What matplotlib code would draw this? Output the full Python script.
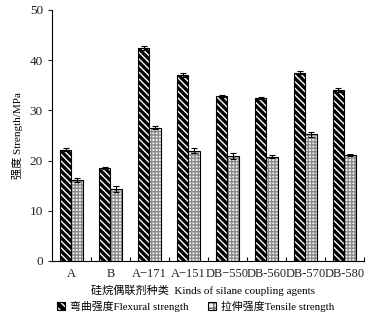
import matplotlib.pyplot as plt
from matplotlib.legend_handler import HandlerTuple
import numpy as np

plt.rcParams['font.family'] = ['Liberation Serif', 'Noto Sans CJK SC']
plt.rcParams['hatch.linewidth'] = 1.0

# 数据
agents = ['A', 'B', 'A\u2212171', 'A\u2212151', 'DB\u2212550', 'DB-560', 'DB-570', 'DB-580']
flexural = [22.2, 18.5, 42.5, 37.0, 32.9, 32.5, 37.5, 34.0]
flexural_err = [0.3, 0.2, 0.4, 0.4, 0.2, 0.2, 0.3, 0.4]
tensile = [16.1, 14.3, 26.5, 22.0, 21.0, 20.8, 25.2, 21.2]
tensile_err = [0.4, 0.6, 0.3, 0.5, 0.6, 0.3, 0.5, 0.2]

fig = plt.figure(figsize=(3.85, 3.21), dpi=100)
ax = fig.add_axes([0.135, 0.187, 0.81, 0.782])

x = np.arange(len(agents))
w = 0.3
flex_hatch = '\\\\\\\\\\'
tens_hatch = '+++++'

# 弯曲强度: 黑底白斜线
ax.bar(x - w / 2, flexural, w, color='black', edgecolor='white', hatch=flex_hatch, linewidth=0)
ax.bar(x - w / 2, flexural, w, fill=False, edgecolor='black', linewidth=0.8)
ax.errorbar(x - w / 2, flexural, yerr=flexural_err, fmt='none', ecolor='black',
            elinewidth=0.8, capsize=2.5, capthick=0.8)

# 拉伸强度: 浅灰点格
ax.bar(x + w / 2, tensile, w, color='#f2f2f2', edgecolor='#8a8a8a', hatch=tens_hatch, linewidth=0)
ax.bar(x + w / 2, tensile, w, fill=False, edgecolor='black', linewidth=0.8)
ax.errorbar(x + w / 2, tensile, yerr=tensile_err, fmt='none', ecolor='black',
            elinewidth=0.8, capsize=2.5, capthick=0.8)

ax.set_xlim(-0.5, len(agents) - 0.5)
ax.set_ylim(0, 50)
ax.set_yticks([0, 10, 20, 30, 40, 50])
ax.tick_params(axis='y', direction='out', length=3, labelsize=9.5, colors='#222222')

ax.set_xticks(np.arange(0.5, len(agents), 1.0))
ax.set_xticklabels([])
ax.tick_params(axis='x', which='major', direction='in', length=3)
ax.set_xticks(x, minor=True)
ax.set_xticklabels(agents, minor=True, fontsize=9, color='#222222')
ax.tick_params(axis='x', which='minor', length=0, pad=5)

ax.spines['top'].set_visible(False)
ax.spines['right'].set_visible(False)

ax.set_ylabel('强度 Strength/MPa', fontsize=8, labelpad=5)
ax.set_xlabel('硅烷偶联剂种类  Kinds of silane coupling agents', fontsize=8)
ax.xaxis.set_label_coords(0.485, -0.095)

# 图例: 填充块 + 黑色边框叠加
h1 = (plt.Rectangle((0, 0), 1, 1, facecolor='black', edgecolor='white', hatch='\\\\\\\\', linewidth=0),
      plt.Rectangle((0, 0), 1, 1, fill=False, edgecolor='black', linewidth=0.8))
h2 = (plt.Rectangle((0, 0), 1, 1, facecolor='#f2f2f2', edgecolor='#666666', hatch='+++', linewidth=0),
      plt.Rectangle((0, 0), 1, 1, fill=False, edgecolor='black', linewidth=0.8))
fig.legend([h1, h2], ['弯曲强度Flexural strength', '拉伸强度Tensile strength'],
           handler_map={tuple: HandlerTuple(ndivide=1)},
           loc='center', bbox_to_anchor=(0.508, 0.045), ncol=2, frameon=False,
           fontsize=7.8, handlelength=0.7, handleheight=0.8, handletextpad=0.5,
           columnspacing=1.8)

plt.savefig('out.png', dpi=100)
